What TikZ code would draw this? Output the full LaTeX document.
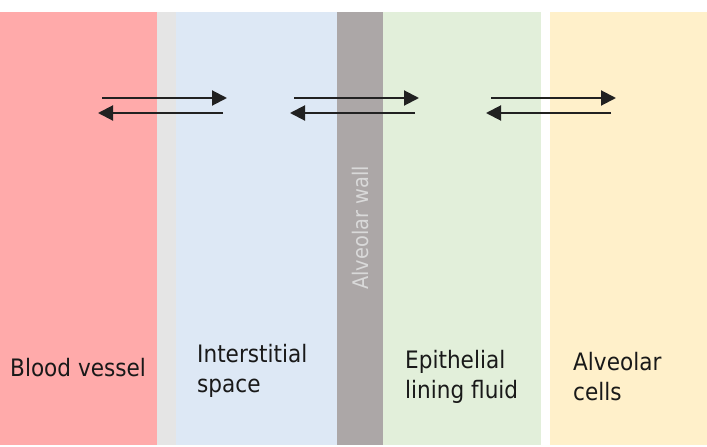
\documentclass[tikz,border=0pt]{standalone}
\usepackage{fontspec}
\setmainfont{DejaVu Sans}[FakeStretch=0.9]
\usetikzlibrary{positioning,arrows.meta}

\definecolor{bloodred}{HTML}{FFAAAA}
\definecolor{stripgrey}{HTML}{E5E5E5}
\definecolor{interblue}{HTML}{DDE8F5}
\definecolor{wallgrey}{HTML}{ACA7A7}
\definecolor{fluidgreen}{HTML}{E2EFDA}
\definecolor{cellyellow}{HTML}{FFF0CA}

\begin{document}
\begin{tikzpicture}[x=1pt, y=-1pt, >={Triangle[length=15pt, width=15pt]},
  band/.style={anchor=north west, inner sep=0pt, minimum height=433pt},
  lbl/.style={anchor=base west, inner sep=0pt, align=left, text=black!90,
    font=\fontsize{24}{30}\selectfont},
  flux/.style={->, line width=2pt, black!87}]
  \useasboundingbox (0,0) rectangle (707,447);
  % compartments
  \node[band, fill=bloodred, minimum width=157pt] (blood) at (0,12) {};
  \node[band, fill=stripgrey, minimum width=19pt] (strip) at (157,12) {};
  \node[band, fill=interblue, minimum width=161pt] (inter) at (176,12) {};
  \node[band, fill=wallgrey, minimum width=46pt] (wall) at (337,12) {};
  \node[band, fill=fluidgreen, minimum width=158pt] (elf) at (383,12) {};
  \node[band, fill=cellyellow, minimum width=157pt] (cells) at (550,12) {};
  % labels (base = last line)
  \node[lbl] (bloodtxt) at (10,376) {Blood vessel};
  \node[lbl] (intertxt) at (197,392) {Interstitial\\space};
  \node[lbl] (elftxt) at (405,398) {Epithelial\\lining fluid};
  \node[lbl] (cellstxt) at (573,400) {Alveolar\\cells};
  \node[rotate=90, inner sep=0pt, text=white!85!black,
    font=\fontsize{21.5}{24}\selectfont] (walltxt) at (360,228) {Alveolar wall};
  % exchange arrows
  \coordinate (a1) at (102,98);  \coordinate (b1) at (227,98);
  \coordinate (c1) at (223,113); \coordinate (d1) at (98,113);
  \coordinate (a2) at (294,98);  \coordinate (b2) at (419,98);
  \coordinate (c2) at (415,113); \coordinate (d2) at (290,113);
  \coordinate (a3) at (491,98);  \coordinate (b3) at (616,98);
  \coordinate (c3) at (611,113); \coordinate (d3) at (486,113);
  \foreach \i in {1,2,3} {
    \draw[flux] (a\i) -- (b\i);
    \draw[flux] (c\i) -- (d\i);
  }
\end{tikzpicture}
\end{document}
